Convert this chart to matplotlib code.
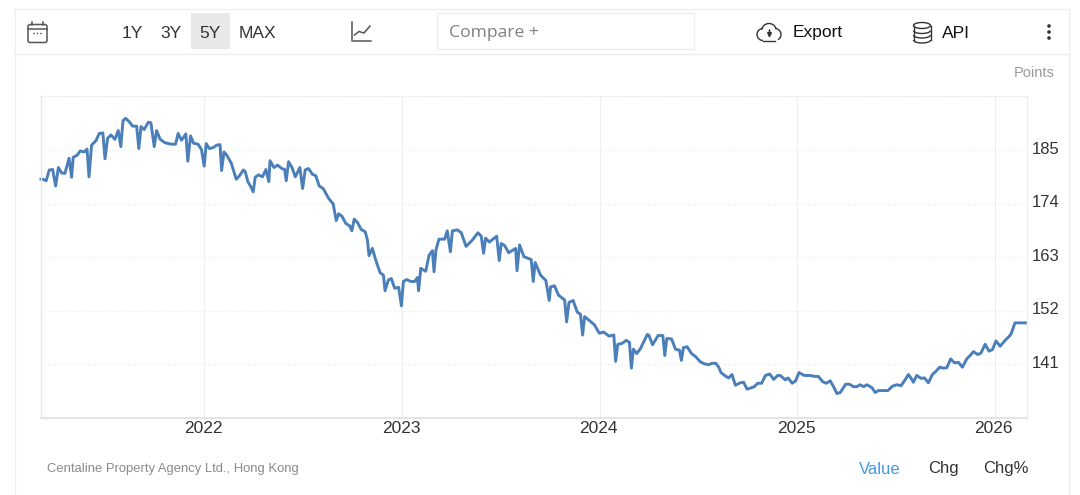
import matplotlib
matplotlib.use("Agg")
import matplotlib.pyplot as plt
from matplotlib.patches import Rectangle, FancyBboxPatch, Ellipse, Arc, Circle
from matplotlib.transforms import ScaledTranslation

plt.rcParams['font.family'] = ['Liberation Sans', 'DejaVu Sans']

# weekly readings, decimal year / index points
years = [2021.173, 2021.182, 2021.199, 2021.215, 2021.232, 2021.247, 2021.261, 2021.277, 2021.294, 2021.315,
         2021.328, 2021.336, 2021.355, 2021.372, 2021.392, 2021.406, 2021.416, 2021.429, 2021.451, 2021.468,
         2021.486, 2021.497, 2021.510, 2021.527, 2021.547, 2021.564, 2021.577, 2021.588, 2021.601, 2021.620,
         2021.636, 2021.657, 2021.668, 2021.679, 2021.695, 2021.716, 2021.729, 2021.746, 2021.758, 2021.776,
         2021.800, 2021.830, 2021.854, 2021.867, 2021.884, 2021.906, 2021.916, 2021.930, 2021.945, 2021.968,
         2021.985, 2021.999, 2022.009, 2022.025, 2022.045, 2022.062, 2022.079, 2022.087, 2022.099, 2022.112,
         2022.136, 2022.161, 2022.177, 2022.197, 2022.207, 2022.220, 2022.234, 2022.247, 2022.257, 2022.274,
         2022.294, 2022.311, 2022.326, 2022.332, 2022.352, 2022.370, 2022.392, 2022.406, 2022.414, 2022.426,
         2022.443, 2022.460, 2022.483, 2022.497, 2022.510, 2022.527, 2022.547, 2022.564, 2022.581, 2022.601,
         2022.628, 2022.652, 2022.667, 2022.679, 2022.696, 2022.716, 2022.736, 2022.746, 2022.758, 2022.775,
         2022.793, 2022.814, 2022.825, 2022.833, 2022.850, 2022.867, 2022.889, 2022.906, 2022.914, 2022.931,
         2022.946, 2022.963, 2022.983, 2022.997, 2023.007, 2023.024, 2023.044, 2023.064, 2023.078, 2023.084,
         2023.095, 2023.120, 2023.137, 2023.154, 2023.162, 2023.172, 2023.187, 2023.216, 2023.229, 2023.245,
         2023.255, 2023.280, 2023.300, 2023.324, 2023.356, 2023.384, 2023.401, 2023.413, 2023.423, 2023.442,
         2023.479, 2023.492, 2023.502, 2023.519, 2023.540, 2023.575, 2023.582, 2023.595, 2023.617, 2023.654,
         2023.664, 2023.674, 2023.701, 2023.728, 2023.745, 2023.752, 2023.772, 2023.792, 2023.823, 2023.833,
         2023.845, 2023.866, 2023.887, 2023.903, 2023.914, 2023.924, 2023.974, 2023.998, 2024.021, 2024.047,
         2024.072, 2024.081, 2024.092, 2024.114, 2024.134, 2024.151, 2024.161, 2024.171, 2024.188, 2024.208,
         2024.241, 2024.249, 2024.268, 2024.296, 2024.320, 2024.330, 2024.340, 2024.364, 2024.384, 2024.404,
         2024.414, 2024.424, 2024.443, 2024.465, 2024.485, 2024.510, 2024.530, 2024.552, 2024.569, 2024.588,
         2024.603, 2024.614, 2024.636, 2024.653, 2024.670, 2024.687, 2024.712, 2024.729, 2024.746, 2024.763,
         2024.783, 2024.800, 2024.820, 2024.839, 2024.861, 2024.881, 2024.901, 2024.914, 2024.940, 2024.953,
         2024.975, 2024.992, 2025.009, 2025.036, 2025.066, 2025.091, 2025.107, 2025.130, 2025.147, 2025.167,
         2025.184, 2025.201, 2025.218, 2025.245, 2025.265, 2025.285, 2025.302, 2025.319, 2025.336, 2025.353,
         2025.378, 2025.395, 2025.411, 2025.437, 2025.459, 2025.482, 2025.504, 2025.526, 2025.546, 2025.563,
         2025.577, 2025.588, 2025.605, 2025.627, 2025.644, 2025.664, 2025.684, 2025.701, 2025.721, 2025.740,
         2025.757, 2025.777, 2025.796, 2025.816, 2025.836, 2025.858, 2025.875, 2025.892, 2025.914, 2025.930,
         2025.951, 2025.971, 2025.988, 2026.006, 2026.027, 2026.052, 2026.072, 2026.082, 2026.102, 2026.136,
         2026.161]
values = [179.0, 179.0, 178.7, 180.9, 181.0, 177.6, 181.4, 180.3, 180.2, 183.3,
          179.4, 183.5, 183.9, 184.8, 184.6, 185.2, 179.5, 186.0, 186.9, 188.4,
          188.5, 183.2, 187.4, 188.1, 187.2, 189.0, 185.7, 191.0, 191.5, 190.8,
          189.9, 189.9, 185.3, 189.8, 189.2, 190.7, 190.6, 185.7, 189.0, 187.2,
          186.5, 186.2, 186.2, 188.4, 187.0, 188.3, 182.7, 187.9, 186.4, 186.2,
          185.1, 181.7, 186.3, 185.3, 185.5, 186.0, 186.1, 180.8, 184.6, 184.0,
          182.3, 179.0, 179.7, 180.9, 180.5, 178.5, 177.5, 176.4, 179.4, 179.9,
          179.5, 181.0, 178.5, 182.8, 181.4, 181.9, 181.2, 181.0, 178.7, 182.6,
          181.4, 179.5, 181.4, 177.1, 180.9, 181.2, 180.0, 179.7, 177.6, 177.1,
          175.1, 173.9, 170.5, 171.9, 171.4, 169.9, 169.4, 168.4, 170.8, 170.1,
          168.7, 168.2, 166.5, 163.3, 164.8, 162.4, 159.8, 159.3, 156.1, 158.3,
          158.6, 156.6, 156.8, 153.0, 158.0, 158.4, 158.0, 158.0, 158.8, 156.1,
          160.7, 160.1, 163.4, 164.3, 160.0, 164.5, 166.7, 166.7, 168.4, 164.1,
          168.4, 168.6, 168.0, 165.2, 166.5, 168.0, 167.3, 163.8, 166.9, 166.1,
          167.3, 162.3, 165.8, 165.4, 163.9, 164.8, 160.2, 165.5, 163.1, 162.5,
          158.0, 161.9, 159.3, 158.2, 154.1, 156.9, 157.1, 155.2, 154.2, 149.7,
          153.7, 154.1, 151.7, 151.3, 147.0, 150.8, 149.1, 147.4, 147.6, 146.8,
          147.0, 141.6, 145.1, 145.3, 145.9, 145.5, 140.2, 144.1, 143.2, 144.3,
          147.1, 147.0, 145.0, 146.9, 146.9, 142.8, 146.3, 146.2, 144.1, 143.9,
          141.8, 144.4, 144.6, 143.2, 142.6, 141.5, 141.1, 140.9, 141.2, 141.2,
          140.4, 139.3, 138.6, 138.2, 138.9, 136.7, 137.2, 137.3, 135.9, 136.1,
          136.4, 137.1, 137.1, 138.7, 139.0, 137.9, 138.7, 138.7, 137.8, 138.2,
          137.1, 137.6, 139.3, 138.7, 138.7, 138.5, 138.5, 137.4, 137.1, 137.6,
          136.4, 135.0, 135.2, 136.9, 136.9, 136.4, 136.4, 136.8, 136.4, 136.8,
          136.2, 135.2, 135.6, 135.6, 135.6, 136.5, 136.8, 136.6, 137.8, 138.9,
          138.1, 137.3, 138.7, 138.1, 138.2, 137.2, 138.9, 139.5, 140.4, 140.2,
          140.3, 142.1, 141.3, 141.4, 140.4, 142.1, 142.8, 143.6, 143.0, 143.3,
          145.1, 143.7, 144.0, 145.8, 144.7, 145.9, 146.7, 147.2, 149.5, 149.5,
          149.5]

y_ticks = [141, 152, 163, 174, 185]
x_ticks = [2022, 2023, 2024, 2025, 2026]
range_buttons = ['1Y', '3Y', '5Y', 'MAX']
range_x = [132, 171, 210, 257]
footer_tabs = ['Value', 'Chg', 'Chg%']
footer_x = [880, 943, 1006]
footer_colors = ['#3f9ae0', '#333333', '#333333']

fig = plt.figure(figsize=(10.8, 4.95), dpi=100, facecolor='white')

# page furniture, drawn in pixel coordinates
bg = fig.add_axes([0, 0, 1, 1], zorder=0)
bg.set_xlim(0, 1080)
bg.set_ylim(495, 0)
bg.axis('off')

border = '#eeeeee'
bg.plot([15, 15], [9, 495], color=border, lw=1)
bg.plot([1069, 1069], [9, 495], color=border, lw=1)
bg.plot([15, 1069], [9, 9], color=border, lw=1)
bg.plot([15, 1069], [54, 54], color=border, lw=1)
bg.add_patch(Rectangle((191, 13), 39, 36, fc='#e8e8e8', ec='none'))
bg.add_patch(Rectangle((437, 13), 257, 36, fc='white', ec='#eeeeee', lw=1))

for lab, px in zip(range_buttons, range_x):
    bg.text(px, 33, lab, ha='center', va='center', fontsize=12.5, color='#333333')
bg.text(449, 33, 'Compare +', ha='left', va='center', fontsize=12.6, color='#808080', family='Open Sans')
bg.text(793, 32, 'Export', ha='left', va='center', fontsize=12.5, color='#111111')
bg.text(942, 33, 'API', ha='left', va='center', fontsize=12.5, color='#111111')
bg.text(1055, 73, 'Points', ha='right', va='center', fontsize=10.5, color='#9a9a9a')
bg.text(47, 469, 'Centaline Property Agency Ltd., Hong Kong', ha='left', va='center', fontsize=9.4, color='#8a8a8a')
for lab, px, c in zip(footer_tabs, footer_x, footer_colors):
    bg.text(px, 469, lab, ha='center', va='center', fontsize=12, color=c)

# calendar icon
ic = '#555555'
bg.add_patch(FancyBboxPatch((28, 24.5), 19, 18, boxstyle='round,pad=0,rounding_size=2', fc='none', ec=ic, lw=1.1))
bg.plot([28, 47], [29, 29], color=ic, lw=1.1)
bg.plot([32, 32], [22, 25], color=ic, lw=1.1)
bg.plot([43, 43], [22, 25], color=ic, lw=1.1)
for px in [34, 37.5, 41]:
    bg.add_patch(Circle((px, 33.5), 0.8, fc=ic, ec='none'))

# line chart icon
bg.plot([352, 352, 371], [22, 40.5, 40.5], color=ic, lw=1.1)
bg.plot([354.5, 359, 364, 370], [35, 31.5, 33, 26], color=ic, lw=1.1)

# cloud icon
ic2 = '#333333'
bg.add_patch(Arc((763, 34.5), 12, 12, theta1=90, theta2=270, color=ic2, lw=1))
bg.add_patch(Arc((769, 31), 15, 15, theta1=190, theta2=340, color=ic2, lw=1))
bg.add_patch(Arc((775, 34.5), 12, 12, theta1=-90, theta2=60, color=ic2, lw=1))
bg.plot([763, 775], [40.5, 40.5], color=ic2, lw=1)
bg.annotate('', xy=(769.5, 38), xytext=(769.5, 30), arrowprops=dict(arrowstyle='-|>', color=ic2, lw=1.2, shrinkA=0, shrinkB=0, mutation_scale=6))

# database icon
bg.add_patch(Ellipse((922, 25.5), 17, 6, fc='none', ec=ic2, lw=1))
bg.plot([913.5, 913.5], [25.5, 40], color=ic2, lw=1)
bg.plot([930.5, 930.5], [25.5, 40], color=ic2, lw=1)
for cy in [30.5, 35, 40]:
    bg.add_patch(Arc((922, cy), 17, 6, theta1=0, theta2=180, color=ic2, lw=1))

# three dots
for py in [26, 32, 38]:
    bg.add_patch(Circle((1049, py), 1.8, fc='#333333', ec='none'))

# the chart itself
ax = fig.add_axes([41 / 1080, (495 - 417.5) / 495, 986 / 1080, 321.5 / 495], zorder=1)
ax.patch.set_alpha(0)
ax.plot(years, values, color='#4a7fba', lw=2.1, solid_joinstyle='round', clip_on=False)
ax.set_xlim(2021.173, 2026.163)
ax.set_ylim(130.07, 196.09)

ax.set_xticks(x_ticks)
ax.set_xticklabels([str(v) for v in x_ticks])
ax.set_yticks(y_ticks)
ax.yaxis.tick_right()
ax.tick_params(axis='both', length=0, labelsize=12, labelcolor='#333333')
ax.tick_params(axis='x', pad=2.5, labelsize=12.5)
ax.tick_params(axis='y', pad=4)
shift = ScaledTranslation(-1 / 100, 2.5 / 100, fig.dpi_scale_trans)
for lab in ax.get_yticklabels():
    lab.set_transform(lab.get_transform() + shift)
shift_x = ScaledTranslation(-1 / 100, 0, fig.dpi_scale_trans)
for lab in ax.get_xticklabels():
    lab.set_transform(lab.get_transform() + shift_x)

ax.grid(axis='y', color='#e9e9e9', lw=0.8, ls=(0, (1, 2)))
ax.grid(axis='x', color='#efefef', lw=0.8)
ax.set_axisbelow(True)
ax.spines['top'].set(color='#e9e9e9', lw=0.8, ls=(0, (1, 2)))
ax.spines['left'].set(color='#e6e6e6', lw=1)
ax.spines['right'].set(color='#efefef', lw=1)
ax.spines['bottom'].set(color='#e4e4e4', lw=1.5)

fig.savefig('out.png', dpi=100)
